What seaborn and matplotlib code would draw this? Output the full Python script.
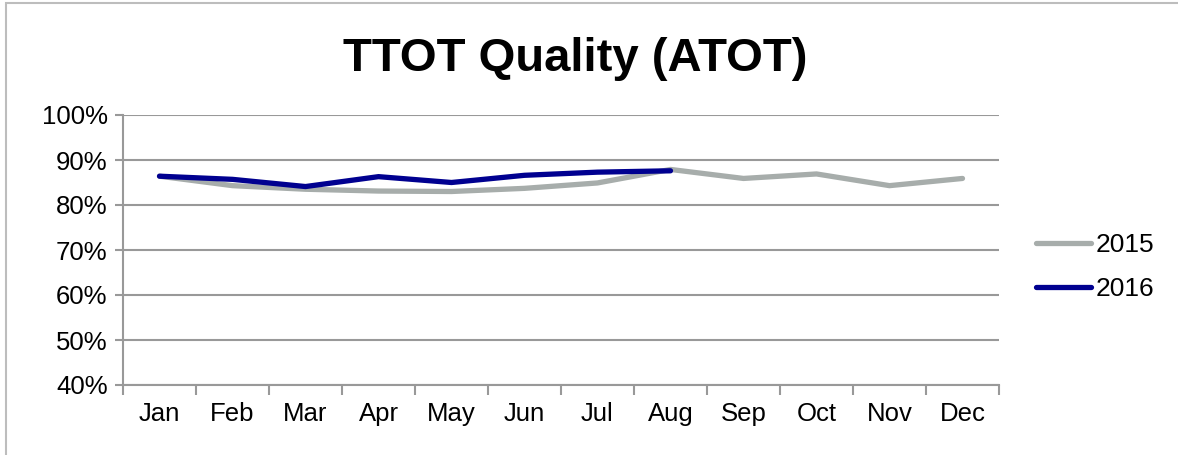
import matplotlib
matplotlib.use("Agg")
import matplotlib.pyplot as plt
import numpy as np
import pandas as pd
import seaborn as sns
from matplotlib.lines import Line2D
from matplotlib.patches import Rectangle

months = ["Jan", "Feb", "Mar", "Apr", "May", "Jun", "Jul", "Aug", "Sep", "Oct", "Nov", "Dec"]
q2015 = [86.4, 84.3, 83.5, 83.1, 83.0, 83.7, 84.9, 87.9, 85.9, 86.9, 84.3, 85.9]
q2016 = [86.4, 85.7, 84.1, 86.3, 85.0, 86.6, 87.3, 87.6]
years = ["2015", "2016"]
colors = {"2015": "#A7ADAB", "2016": "#000090"}

rows = []
for i, v in enumerate(q2015):
    rows.append({"x": i, "month": months[i], "value": v, "year": "2015"})
for i, v in enumerate(q2016):
    rows.append({"x": i, "month": months[i], "value": v, "year": "2016"})
df = pd.DataFrame(rows)

sns.set_style("white")
plt.rcParams["font.family"] = ["Liberation Sans", "DejaVu Sans"]
plt.rcParams["text.color"] = "black"
plt.rcParams["xtick.color"] = "black"
plt.rcParams["ytick.color"] = "black"

fig = plt.figure(figsize=(11.78, 4.55), dpi=100)
ax = fig.add_axes([123 / 1178, 70 / 455, 876 / 1178, 270 / 455])

sns.lineplot(data=df, x="x", y="value", hue="year", palette=colors,
             linewidth=3.8, ax=ax, legend=False, solid_capstyle="round")

ax.set_xlim(-0.5, 11.5)
ax.set_ylim(40, 100)
ax.set_yticks(np.arange(40, 101, 10))
ax.set_yticklabels([f"{v}%" for v in range(40, 101, 10)], fontsize=18.5)
ax.set_xticks(range(12))
ax.set_xticklabels(months, fontsize=18.5)
ax.set_xticks(np.arange(-0.5, 12, 1), minor=True)
ax.tick_params(axis="x", which="major", length=0, pad=12, bottom=True)
ax.tick_params(axis="x", which="minor", length=7, color="#999999", width=1.5,
               direction="out", bottom=True)
ax.tick_params(axis="y", length=6, color="#999999", labelcolor="black", width=1.5,
               direction="out", pad=5, left=True)
ax.set_xlabel("")
ax.set_ylabel("")
ax.yaxis.grid(True, color="#999999", linewidth=1.5)
ax.set_axisbelow(True)
for s in ["top", "right"]:
    ax.spines[s].set_visible(False)
for s in ["left", "bottom"]:
    ax.spines[s].set_color("#999999")
    ax.spines[s].set_linewidth(1.5)

fig.text(575 / 1178, 1 - 59 / 455, "TTOT Quality (ATOT)", ha="center", va="center",
         fontsize=34, fontweight="bold", color="black")

handles = [Line2D([], [], color=colors[y], linewidth=3.8, solid_capstyle="round") for y in years]
fig.legend(handles, years, loc="center left", bbox_to_anchor=(1036 / 1178, 1 - 267 / 455),
           frameon=False, fontsize=19, handlelength=2.1, handletextpad=0.15,
           labelspacing=0.75, borderaxespad=0, borderpad=0)

fig.patches.append(Rectangle((6 / 1178, -0.1), 1.2, 1 - 3 / 455 + 0.1, transform=fig.transFigure,
                             fill=False, edgecolor="#BDBDBD", linewidth=1.5, figure=fig))

fig.savefig("out.png", dpi=100)
